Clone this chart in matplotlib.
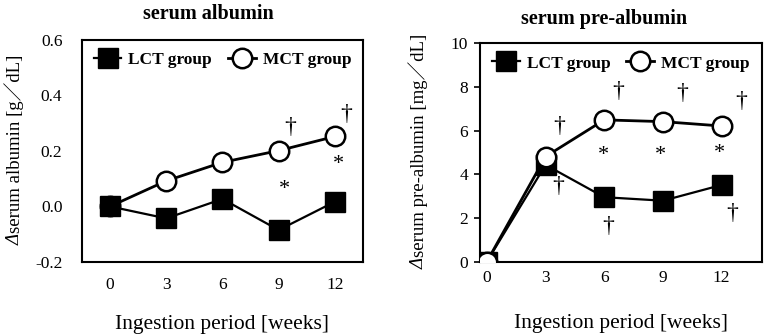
from matplotlib import pyplot as plt

# data
weeks = ['0', '3', '6', '9', '12']

alb_lct = [0.0, -0.043, 0.027, -0.085, 0.017]
alb_mct = [0.0, 0.092, 0.159, 0.201, 0.252]

pre_lct = [0.0, 4.43, 2.95, 2.79, 3.51]
pre_mct = [0.0, 4.81, 6.49, 6.41, 6.21]

# significance marks: (x index, y value, symbol)
alb_marks = [(3.2, 0.283, '†'), (4.2, 0.33, '†'), (3.1, 0.06, '*'), (4.07, 0.15, '*')]
pre_marks = [(1.23, 6.18, '†'), (1.21, 3.43, '†'),
             (2.24, 7.78, '†'), (1.98, 4.84, '*'), (2.06, 1.6, '†'),
             (3.32, 7.71, '†'), (2.96, 4.84, '*'),
             (4.34, 7.33, '†'), (3.97, 4.96, '*'), (4.18, 2.2, '†')]

plt.rcParams['font.family'] = ['Liberation Serif', 'Noto Sans CJK JP', 'DejaVu Sans']


def draw_panel(ax, lct, mct, marks, title, ylabel, lct_on_top, title_x, title_pad):
    x = list(range(len(weeks)))
    ax.plot(x, lct, color='black', lw=1.6, marker='s', ms=14.5,
            mfc='black', mec='black', label='LCT group',
            zorder=5 if lct_on_top else 3)
    ax.plot(x, mct, color='black', lw=2.0, marker='o', ms=14,
            mfc='white', mec='black', mew=1.8, label='MCT group', zorder=4)
    for mx, my, s in marks:
        ax.text(mx, my, s, ha='center', va='center',
                fontsize=17 if s == '†' else 16)
    ax.set_xticks(x)
    ax.set_xticklabels(weeks)
    ax.set_title(title, fontsize=14.5, fontweight='bold', pad=title_pad, x=title_x)
    ax.set_ylabel(ylabel, fontsize=13.5)
    ax.tick_params(labelsize=12.5)
    for sp in ax.spines.values():
        sp.set_linewidth(1.5)
    ax.legend(loc='upper center', ncol=2, frameon=False,
              prop={'weight': 'bold', 'size': 12.5}, handlelength=1.6,
              columnspacing=0.9, handletextpad=0.4, borderaxespad=0.3)


fig = plt.figure(figsize=(7.65, 3.35), dpi=100)

ax1 = fig.add_axes([0.107, 0.218, 0.3675, 0.663])
draw_panel(ax1, alb_lct, alb_mct, alb_marks, 'serum albumin',
           'serum albumin [g／dL]', True, 0.45, 15)
ax1.set_xlim(-0.5, 4.5)
ax1.set_ylim(-0.2, 0.6)
ax1.set_yticks([-0.2, 0.0, 0.2, 0.4, 0.6])
ax1.set_yticklabels(['-0.2', '0.0', '0.2', '0.4', '0.6'])
ax1.tick_params(axis='y', length=0, pad=14)
ax1.tick_params(axis='x', length=0, pad=11)
ax1.set_xlabel('Ingestion period [weeks]', fontsize=15.5, labelpad=16)
ax1.yaxis.set_label_coords(-0.205, 0.53)

ax2 = fig.add_axes([0.628, 0.219, 0.3675, 0.652])
draw_panel(ax2, pre_lct, pre_mct, pre_marks, 'serum pre-albumin',
           'serum pre-albumin [mg／dL]', False, 0.44, 14)
ax2.set_xlim(-0.11, 4.68)
ax2.set_ylim(0, 10)
ax2.set_yticks([0, 2, 4, 6, 8, 10])
ax2.tick_params(axis='x', length=0, pad=6)
ax2.tick_params(axis='y', length=4, width=1.2, pad=5)
ax2.set_xlabel('Ingestion period [weeks]', fontsize=15.5, labelpad=20)
ax2.yaxis.set_label_coords(-0.185, 0.53)

# italic delta in front of each y label
fig.canvas.draw()
renderer = fig.canvas.get_renderer()
for ax in (ax1, ax2):
    bb = ax.yaxis.label.get_window_extent(renderer)
    fig.text(bb.x0 + bb.width / 2 + 0.5, bb.y0 - 1, 'Δ', transform=None,
             rotation=90, ha='center', va='top', style='italic', fontsize=13.5)

plt.savefig('out.png', dpi=100)
